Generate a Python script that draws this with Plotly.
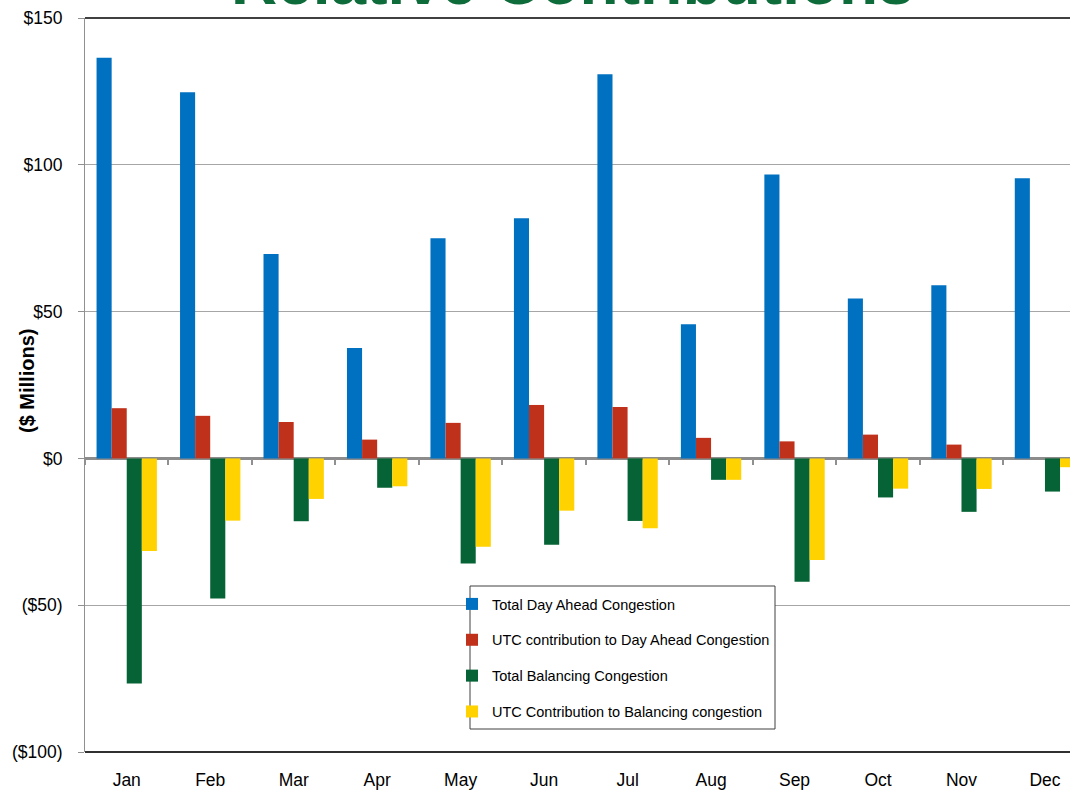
import plotly.graph_objects as go

months = ["Jan", "Feb", "Mar", "Apr", "May", "Jun", "Jul", "Aug", "Sep", "Oct", "Nov", "Dec"]
total_day_ahead = [136.5, 124.7, 69.6, 37.6, 75.0, 81.8, 130.8, 45.7, 96.7, 54.5, 59.0, 95.4]
utc_day_ahead = [17.1, 14.5, 12.4, 6.4, 12.1, 18.2, 17.5, 7.0, 5.8, 8.1, 4.7, 0.0]
total_balancing = [-76.7, -47.7, -21.4, -10.0, -35.8, -29.4, -21.3, -7.3, -42.0, -13.3, -18.2, -11.3]
utc_balancing = [-31.5, -21.2, -13.8, -9.5, -30.1, -17.8, -23.8, -7.3, -34.6, -10.3, -10.4, -3.0]

series_names = [
    "Total Day Ahead Congestion",
    "UTC contribution to Day Ahead Congestion",
    "Total Balancing Congestion",
    "UTC Contribution to Balancing congestion",
]
series_values = [total_day_ahead, utc_day_ahead, total_balancing, utc_balancing]
series_colors = ["#0070C0", "#C0311C", "#066335", "#FFD200"]

y_tickvals = [-100, -50, 0, 50, 100, 150]
y_ticktext = ["($100)", "($50)", "$0", "$50", "$100", "$150"]

FONT = "Liberation Sans, Arial, sans-serif"
PLOT_W = 985
PLOT_H = 734


def px_x(px):
    return (px - 85) / PLOT_W


def px_y(py):
    return (752 - py) / PLOT_H


fig = go.Figure()
for i, (name, vals, col) in enumerate(zip(series_names, series_values, series_colors)):
    fig.add_trace(go.Bar(
        x=months, y=vals, name=name, legendgroup=str(i),
        marker=dict(color=col, line=dict(width=0)),
    ))

# invisible helper trace on overlay axis for boundary ticks at zero line
fig.add_trace(go.Scatter(x=months, y=[0] * 12, xaxis="x2", mode="markers",
                         marker=dict(opacity=0), showlegend=False, hoverinfo="skip"))

fig.update_layout(
    width=1070, height=793,
    margin=dict(l=85, r=0, t=18, b=41),
    paper_bgcolor="white", plot_bgcolor="white",
    barmode="group", bargap=0.277, bargroupgap=0,
    font=dict(family=FONT, color="#000000"),
    showlegend=True,
    legend=dict(
        x=px_x(452), y=px_y(588), xanchor="left", yanchor="top",
        bgcolor="rgba(0,0,0,0)", borderwidth=0,
        font=dict(family=FONT, size=14.5, color="#000"),
        tracegroupgap=14, traceorder="grouped",
        itemwidth=30,
    ),
    xaxis=dict(
        range=[-0.5, 11.3], showgrid=False, showline=False, ticks="",
        tickfont=dict(family=FONT, size=17.5, color="#000"),
        ticklabelstandoff=15,
    ),
    xaxis2=dict(
        overlaying="x", anchor="free", position=0.4, range=[-0.5, 11.3],
        showgrid=False, showline=False, showticklabels=False,
        ticks="outside", tickson="boundaries", ticklen=6, tickcolor="#909090", tickwidth=2,
        matches="x",
    ),
    yaxis=dict(
        range=[-100, 150], tickvals=y_tickvals, ticktext=y_ticktext,
        showgrid=True, gridcolor="#A6A6A6", gridwidth=1,
        showline=True, linecolor="#909090", linewidth=1,
        ticks="outside", ticklen=6, tickcolor="#909090",
        zeroline=True, zerolinecolor="#8C8C8C", zerolinewidth=3,
        tickfont=dict(family=FONT, size=17.5, color="#000"),
        ticklabelstandoff=12,
    ),
)

# darker top and bottom border lines of the plot
fig.add_shape(type="line", xref="paper", yref="paper", x0=0, x1=1, y0=1, y1=1,
              line=dict(color="#404040", width=2), layer="above")
fig.add_shape(type="line", xref="paper", yref="paper", x0=0, x1=1, y0=0, y1=0,
              line=dict(color="#303030", width=2), layer="above")

# legend frame
fig.add_shape(type="rect", xref="paper", yref="paper",
              x0=px_x(470), x1=px_x(775), y0=px_y(729), y1=px_y(586),
              fillcolor="white", line=dict(color="#404040", width=1), layer="above")

fig.add_annotation(
    text="<b>($ Millions)</b>", textangle=-90, showarrow=False,
    xref="paper", yref="paper", x=px_x(27), y=px_y(381),
    xanchor="center", yanchor="middle",
    font=dict(family=FONT, size=20, color="#000"),
)

# title cut off at the top of the slide
fig.add_annotation(
    text="<b>Relative Contributions</b>", showarrow=False,
    xref="paper", yref="paper", x=px_x(572), y=px_y(20),
    xanchor="center", yanchor="bottom",
    font=dict(family=FONT, size=64, color="#0E6B3A"),
)

fig.write_html("out.html", config={"displayModeBar": False},
               post_script="document.body.style.margin='0';document.body.style.overflow='hidden';")
